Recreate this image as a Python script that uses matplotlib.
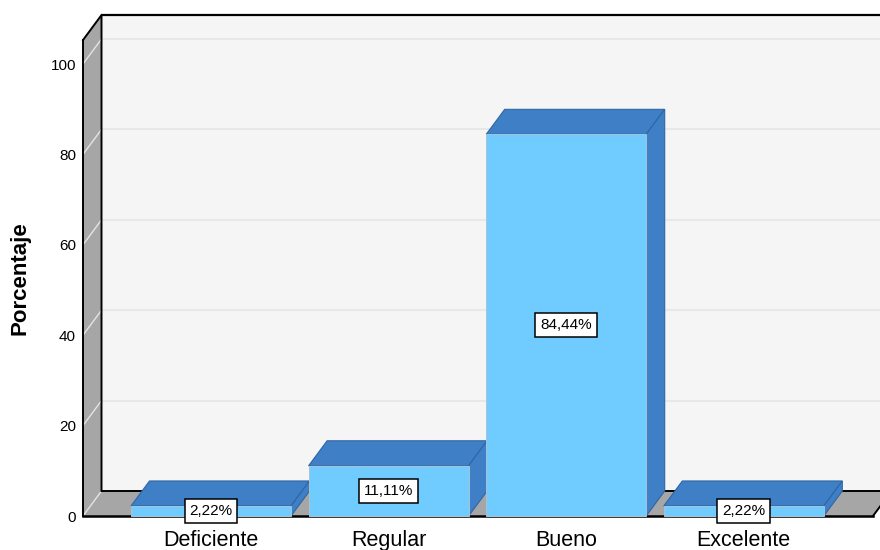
import matplotlib
matplotlib.use('Agg')
import matplotlib.pyplot as plt
import numpy as np

categories = ['Deficiente', 'Regular', 'Bueno', 'Excelente']
percent = [2.22, 11.11, 84.44, 2.22]
value_labels = ['2,22%', '11,11%', '84,44%', '2,22%']
y_ticks = [0, 20, 40, 60, 80, 100]

plt.rcParams['font.family'] = ['Liberation Sans', 'DejaVu Sans']

FRONT = '#70CBFF'
DARK = '#3F7FC5'
WALL = '#A6A6A6'
BACK = '#F5F5F5'

# pixel scale of the picture: one category = 177.6 px, one percent = 4.52 px
PX_X = 177.6
PX_Y = 4.52
DX = 18.5 / PX_X    # depth of the 3d box
DY = 25 / PX_Y
BAR_W = 160 / PX_X

fig = plt.figure(figsize=(8.8, 5.5), dpi=100)
ax = fig.add_axes([0, 0, 1, 1])
ax.set_xlim(-211 / PX_X, (880 - 211) / PX_X)
ax.set_ylim(-34 / PX_Y, 516 / PX_Y)
ax.patch.set_visible(False)

left = -128 / PX_X      # x=83 px
right = 662 / PX_X      # x=873 px
top = 105.3
far = 3.8

# back wall, left wall and floor
ax.fill([left + DX, far, far, left + DX], [DY, DY, top + DY, top + DY], color=BACK, lw=0, zorder=1)
ax.fill([left, left + DX, left + DX, left], [0, DY, top + DY, top], color=WALL, lw=0, zorder=1)
ax.fill([left, right, right + DX, far, left + DX], [0, 0, DY, DY, DY], color=WALL, lw=0, zorder=1)

for t in y_ticks[1:]:
    ax.plot([left + DX, far], [t + DY, t + DY], color='#E8E8E8', lw=1.5, zorder=1.5)
    ax.plot([left, left + DX], [t, t + DY], color='#E4E4E4', lw=1, zorder=1.5)
ax.plot([left, left + DX], [0, DY], color='#E4E4E4', lw=1, zorder=1.5)

# box outline
ax.plot([left, left + DX, left + DX], [top, top + DY, DY], color='black', lw=1.4, zorder=2)
ax.plot([left + DX, far], [top + DY, top + DY], color='black', lw=1.6, zorder=2)
ax.plot([left + DX, far], [DY, DY], color='black', lw=1.4, zorder=2)
ax.plot([right, right + DX], [0, DY], color='black', lw=1.4, zorder=2)

# bars, left to right so each front covers the side of the one before
x = np.arange(len(categories))
for i, (xi, v) in enumerate(zip(x, percent)):
    z = 3 + i
    x0 = xi - BAR_W / 2
    x1 = xi + BAR_W / 2
    ax.fill([x0, x1, x1 + DX, x0 + DX], [v, v, v + DY, v + DY], facecolor=DARK, edgecolor='#2F66A6', lw=0.8, zorder=z)
    ax.fill([x1, x1 + DX, x1 + DX, x1], [0, DY, v + DY, v], facecolor=DARK, edgecolor='#2F66A6', lw=0.8, zorder=z)
    ax.bar(xi, v, BAR_W, color=FRONT, edgecolor='#A9C2D6', linewidth=0.7, zorder=z + 0.5)

for xi, v, lab in zip(x, percent, value_labels):
    ax.text(xi, v / 2, lab, ha='center', va='center', fontsize=11, color='black', zorder=10,
            bbox=dict(boxstyle='square,pad=0.32', facecolor='white', edgecolor='black', linewidth=1.1))

ax.spines['top'].set_visible(False)
ax.spines['right'].set_visible(False)
ax.spines['left'].set_position(('data', left))
ax.spines['left'].set_bounds(0, top)
ax.spines['left'].set_linewidth(1.4)
ax.spines['left'].set_zorder(2)
ax.spines['bottom'].set_position(('data', 0))
ax.spines['bottom'].set_bounds(left, right)
ax.spines['bottom'].set_linewidth(1.8)
ax.spines['bottom'].set_zorder(2.5)

ax.set_yticks(y_ticks)
ax.tick_params(axis='y', length=0, pad=5, labelsize=11)
ax.set_xticks(x)
ax.set_xticklabels(categories)
ax.tick_params(axis='x', length=0, pad=10, labelsize=15.5)

ax.text(-191 / PX_X, (516 - 278) / PX_Y, 'Porcentaje', rotation=90, ha='center', va='center',
        fontsize=16, fontweight='bold')

fig.savefig('out.png', dpi=100)
